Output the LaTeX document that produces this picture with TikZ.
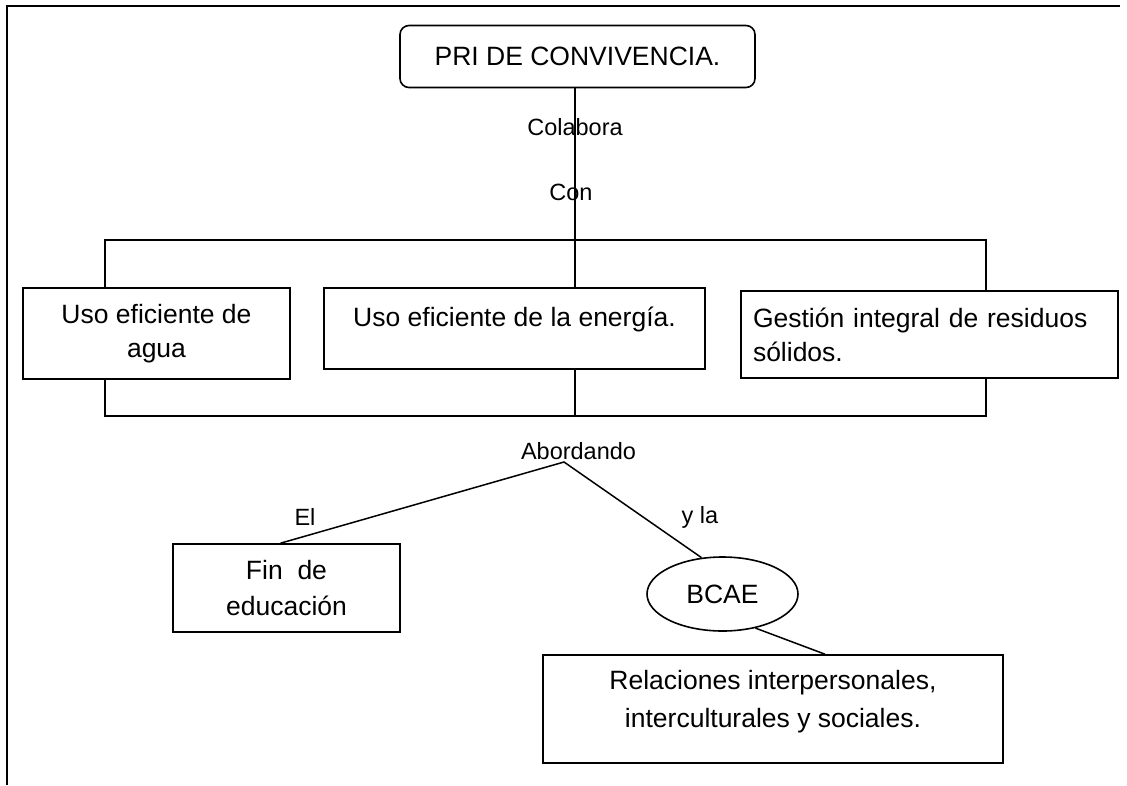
\documentclass[tikz,border=0pt]{standalone}
\usepackage{fontspec}
\setmainfont{Liberation Sans}
\usetikzlibrary{shapes.geometric}
\newcommand\mybf{\fontsize{26.5}{34}\selectfont}
\newcommand\mylf{\fontsize{23.5}{28}\selectfont}
\tikzset{
  box/.style={draw, line width=1.6pt, inner sep=0pt, font=\mybf},
  lbl/.style={inner sep=0pt, font=\mylf},
  conn/.style={line width=1.5pt},
  frame/.style={line width=1.5pt}
}
\begin{document}
\begin{tikzpicture}[x=1pt,y=-1pt]
\useasboundingbox (0,0) rectangle (1127,785);
\fill[white] (0,0) rectangle (1127,785);
\draw[frame] (7,785) -- (7,6) -- (1120,6);

% nodes
\node[box, rounded corners=9, minimum width=355, minimum height=62] (top) at (577.5,56.5) {PRI DE CONVIVENCIA.};
\node[lbl] (colabora) at (575,127) {Colabora};
\node[lbl] (con) at (571,192) {Con};

\coordinate (hl) at (105,240);
\coordinate (hm) at (575,240);
\coordinate (hr) at (986,240);

\node[box, minimum width=267, minimum height=91, align=center] (b1) at (156.5,333.5) {Uso eficiente de\\agua};
\node[box, minimum width=381, minimum height=81, text height=19, text depth=23] (b2) at (514.5,328.5) {Uso eficiente de la energía.};
\node[box, align=left, text width=353, inner xsep=12, minimum height=87] (b3) at (929.5,334.5) {Gestión integral de residuos\\sólidos.};

\coordinate (bl) at (105,416);
\coordinate (bm) at (575,416);
\coordinate (br) at (986,416);

\node[lbl] (abord) at (578.5,451) {Abordando};
\coordinate (abj) at (564,462);
\node[lbl] (el) at (305,517) {El};
\node[lbl] (yla) at (700,517) {y la};

\node[box, minimum width=227, minimum height=88, align=center, font=\fontsize{26.5}{36}\selectfont] (fin) at (286.5,588) {Fin\ \ de\\educación};
\node[draw, ellipse, line width=1.6pt, inner sep=0pt, minimum width=151, minimum height=74, font=\mybf] (bcae) at (722.5,594) {BCAE};
\node[box, minimum width=460, minimum height=108, font=\fontsize{26.5}{38}\selectfont] (rel) at (773,709) {\raisebox{8pt}[\height][\depth]{\begin{tabular}{@{}c@{}}Relaciones interpersonales,\\interculturales y sociales.\end{tabular}}};

% connectors
\draw[conn] (top.south -| hm) -- (hm);
\draw[conn] (b1.north -| hl) -- (hl) -- (hr) -- (b3.north -| hr);
\draw[conn] (hm) -- (b2.north -| hm);
\draw[conn] (b1.south -| bl) -- (bl) -- (br) -- (b3.south -| br);
\draw[conn] (b2.south -| bm) -- (bm);
\draw[conn] ([xshift=-6pt]fin.north) -- (abj) -- (bcae.120);
\draw[conn] (bcae.-46) -- ([xshift=52pt]rel.north);
\end{tikzpicture}
\end{document}
